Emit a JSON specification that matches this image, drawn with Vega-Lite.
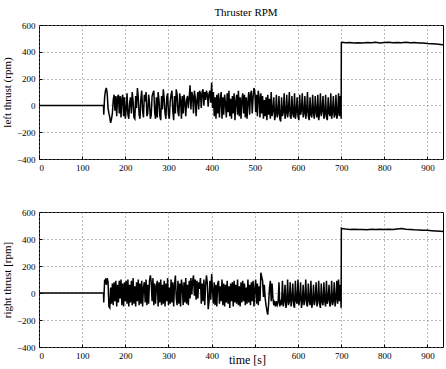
{
  "$schema": "https://vega.github.io/schema/vega-lite/v6.json",
  "padding": {"left": 0, "top": 6, "right": 0, "bottom": 0},
  "spacing": 34,
  "config": {
    "font": "Liberation Serif",
    "view": {"stroke": "black", "strokeWidth": 1},
    "axis": {
      "labelFont": "Liberation Serif", "labelFontSize": 9, "labelColor": "black",
      "titleFont": "Liberation Serif", "titleFontSize": 11, "titleFontWeight": "normal", "titleColor": "black",
      "grid": true, "gridColor": "#777", "gridDash": [1, 3], "gridWidth": 1,
      "domain": false, "ticks": true, "tickSize": -3, "tickColor": "black", "labelPadding": 7
    }
  },
  "datasets": {
    "left": [
      {"t":0,"v":0},{"t":149.5,"v":0},
      {"t":150,"v":-70},{"t":152,"v":60},{"t":154,"v":110},{"t":156,"v":130},{"t":158,"v":90},{"t":160,"v":-20},{"t":162,"v":-60},{"t":164,"v":-90},{"t":166,"v":-130},{"t":168,"v":-100},
      {"t":170,"v":-60},{"t":172,"v":40},{"t":174,"v":80},{"t":176,"v":-40},{"t":178,"v":70},{"t":180,"v":-80},{"t":182,"v":60},{"t":184,"v":80},{"t":186,"v":-60},{"t":188,"v":70},
      {"t":190,"v":-90},{"t":192,"v":50},{"t":194,"v":80},{"t":196,"v":-80},{"t":198,"v":60},{"t":200,"v":-100},{"t":202,"v":-30},{"t":204,"v":90},{"t":206,"v":-70},{"t":208,"v":-100},
      {"t":210,"v":20},{"t":212,"v":60},{"t":214,"v":-60},{"t":216,"v":100},{"t":218,"v":30},{"t":220,"v":-90},{"t":222,"v":-100},{"t":224,"v":70},{"t":226,"v":-20},{"t":228,"v":130},
      {"t":230,"v":60},{"t":232,"v":-70},{"t":234,"v":-100},{"t":236,"v":50},{"t":238,"v":110},{"t":240,"v":-40},{"t":242,"v":-90},{"t":244,"v":80},{"t":246,"v":30},{"t":248,"v":100},
      {"t":250,"v":-80},{"t":252,"v":-60},{"t":254,"v":80},{"t":256,"v":20},{"t":258,"v":-100},{"t":260,"v":-70},{"t":262,"v":70},{"t":264,"v":90},{"t":266,"v":110},{"t":268,"v":-50},
      {"t":270,"v":-100},{"t":272,"v":60},{"t":274,"v":-90},{"t":276,"v":100},{"t":278,"v":40},{"t":280,"v":-80},{"t":282,"v":-110},{"t":284,"v":70},{"t":286,"v":-30},{"t":288,"v":120},
      {"t":290,"v":50},{"t":292,"v":-60},{"t":294,"v":-100},{"t":296,"v":60},{"t":298,"v":90},{"t":300,"v":-70},{"t":302,"v":-100},{"t":304,"v":30},{"t":306,"v":80},{"t":308,"v":110},
      {"t":310,"v":-40},{"t":312,"v":-110},{"t":314,"v":70},{"t":316,"v":-60},{"t":318,"v":120},{"t":320,"v":80},{"t":322,"v":-50},{"t":324,"v":-80},{"t":326,"v":90},{"t":328,"v":40},
      {"t":330,"v":-100},{"t":332,"v":70},{"t":334,"v":-60},{"t":336,"v":80},{"t":338,"v":20},{"t":340,"v":-80},{"t":342,"v":40},{"t":344,"v":70},{"t":346,"v":-20},{"t":348,"v":60},
      {"t":350,"v":150},{"t":352,"v":-30},{"t":354,"v":100},{"t":356,"v":70},{"t":358,"v":-60},{"t":360,"v":110},{"t":362,"v":60},{"t":364,"v":-80},{"t":366,"v":40},{"t":368,"v":100},
      {"t":370,"v":-30},{"t":372,"v":110},{"t":374,"v":90},{"t":376,"v":-20},{"t":378,"v":100},{"t":380,"v":120},{"t":382,"v":0},{"t":384,"v":100},{"t":386,"v":40},{"t":388,"v":110},
      {"t":390,"v":80},{"t":392,"v":-10},{"t":394,"v":90},{"t":396,"v":110},{"t":398,"v":20},{"t":400,"v":170},{"t":402,"v":-20},{"t":404,"v":100},{"t":406,"v":-80},{"t":408,"v":60},
      {"t":410,"v":-100},{"t":412,"v":80},{"t":414,"v":-60},{"t":416,"v":90},{"t":418,"v":-90},{"t":420,"v":40},{"t":422,"v":100},{"t":424,"v":-100},{"t":426,"v":60},{"t":428,"v":-70},
      {"t":430,"v":80},{"t":432,"v":20},{"t":434,"v":-90},{"t":436,"v":90},{"t":438,"v":-50},{"t":440,"v":110},{"t":442,"v":-80},{"t":444,"v":50},{"t":446,"v":-100},{"t":448,"v":70},
      {"t":450,"v":-60},{"t":452,"v":90},{"t":454,"v":-110},{"t":456,"v":30},{"t":458,"v":80},{"t":460,"v":-70},{"t":462,"v":110},{"t":464,"v":-80},{"t":466,"v":60},{"t":468,"v":-100},
      {"t":470,"v":40},{"t":472,"v":90},{"t":474,"v":-60},{"t":476,"v":80},{"t":478,"v":-90},{"t":480,"v":60},{"t":482,"v":-100},{"t":484,"v":30},{"t":486,"v":100},{"t":488,"v":-70},
      {"t":490,"v":80},{"t":492,"v":110},{"t":494,"v":-60},{"t":496,"v":60},{"t":498,"v":130},{"t":500,"v":100},{"t":502,"v":-50},{"t":504,"v":80},{"t":506,"v":-80},{"t":508,"v":110},
      {"t":510,"v":60},{"t":512,"v":-90},{"t":514,"v":90},{"t":516,"v":-60},{"t":518,"v":70},{"t":520,"v":-100},{"t":522,"v":40},{"t":524,"v":-80},{"t":526,"v":60},{"t":528,"v":-110},
      {"t":530,"v":80},{"t":532,"v":-70},{"t":534,"v":50},{"t":536,"v":-100},{"t":538,"v":100},{"t":540,"v":-80},{"t":542,"v":-40},{"t":544,"v":60},{"t":546,"v":-110},{"t":548,"v":-70},
      {"t":550,"v":80},{"t":552,"v":-90},{"t":554,"v":-60},{"t":556,"v":70},{"t":558,"v":-100},{"t":560,"v":-120},{"t":562,"v":60},{"t":564,"v":-80},{"t":566,"v":-50},{"t":568,"v":90},
      {"t":570,"v":-100},{"t":572,"v":-60},{"t":574,"v":80},{"t":576,"v":-90},{"t":578,"v":-40},{"t":580,"v":100},{"t":582,"v":-80},{"t":584,"v":-100},{"t":586,"v":70},{"t":588,"v":-60},
      {"t":590,"v":-90},{"t":592,"v":90},{"t":594,"v":-100},{"t":596,"v":-50},{"t":598,"v":60},{"t":600,"v":-80},{"t":602,"v":-110},{"t":604,"v":80},{"t":606,"v":-70},{"t":608,"v":-40},
      {"t":610,"v":90},{"t":612,"v":-90},{"t":614,"v":-60},{"t":616,"v":70},{"t":618,"v":-100},{"t":620,"v":-50},{"t":622,"v":100},{"t":624,"v":-80},{"t":626,"v":-110},{"t":628,"v":60},
      {"t":630,"v":-70},{"t":632,"v":-90},{"t":634,"v":80},{"t":636,"v":-60},{"t":638,"v":-100},{"t":640,"v":70},{"t":642,"v":-50},{"t":644,"v":-90},{"t":646,"v":80},{"t":648,"v":-110},
      {"t":650,"v":-60},{"t":652,"v":90},{"t":654,"v":-80},{"t":656,"v":-40},{"t":658,"v":70},{"t":660,"v":-100},{"t":662,"v":-70},{"t":664,"v":80},{"t":666,"v":-90},{"t":668,"v":-110},
      {"t":670,"v":60},{"t":672,"v":-60},{"t":674,"v":-80},{"t":676,"v":90},{"t":678,"v":-100},{"t":680,"v":-50},{"t":682,"v":70},{"t":684,"v":-90},{"t":686,"v":-70},{"t":688,"v":80},
      {"t":690,"v":-100},{"t":692,"v":-60},{"t":694,"v":90},{"t":696,"v":-80},{"t":698,"v":70},{"t":700,"v":-100},
      {"t":700.5,"v":470},{"t":702,"v":472},{"t":710,"v":468},{"t":720,"v":470},{"t":730,"v":466},{"t":740,"v":468},{"t":750,"v":465},{"t":760,"v":470},{"t":770,"v":467},{"t":780,"v":472},
      {"t":790,"v":466},{"t":800,"v":469},{"t":810,"v":471},{"t":820,"v":467},{"t":830,"v":470},{"t":840,"v":468},{"t":850,"v":472},{"t":860,"v":467},{"t":870,"v":469},{"t":880,"v":466},
      {"t":890,"v":465},{"t":900,"v":462},{"t":910,"v":460},{"t":920,"v":458},{"t":930,"v":455},{"t":936,"v":453}
    ],
    "right": [
      {"t":0,"v":0},{"t":149.5,"v":0},
      {"t":150,"v":-70},{"t":152,"v":90},{"t":154,"v":100},{"t":156,"v":60},{"t":158,"v":110},{"t":160,"v":80},{"t":162,"v":-100},{"t":164,"v":-110},{"t":166,"v":40},{"t":168,"v":-80},
      {"t":170,"v":70},{"t":172,"v":-90},{"t":174,"v":80},{"t":176,"v":-60},{"t":178,"v":90},{"t":180,"v":-100},{"t":182,"v":60},{"t":184,"v":-70},{"t":186,"v":90},{"t":188,"v":-40},
      {"t":190,"v":100},{"t":192,"v":-90},{"t":194,"v":70},{"t":196,"v":-100},{"t":198,"v":80},{"t":200,"v":-60},{"t":202,"v":90},{"t":204,"v":-80},{"t":206,"v":100},{"t":208,"v":-100},
      {"t":210,"v":60},{"t":212,"v":-70},{"t":214,"v":90},{"t":216,"v":-90},{"t":218,"v":110},{"t":220,"v":-80},{"t":222,"v":50},{"t":224,"v":-100},{"t":226,"v":80},{"t":228,"v":-60},
      {"t":230,"v":100},{"t":232,"v":-90},{"t":234,"v":70},{"t":236,"v":-80},{"t":238,"v":90},{"t":240,"v":-100},{"t":242,"v":40},{"t":244,"v":80},{"t":246,"v":-70},{"t":248,"v":100},
      {"t":250,"v":-90},{"t":252,"v":60},{"t":254,"v":-80},{"t":256,"v":90},{"t":258,"v":130},{"t":260,"v":80},{"t":262,"v":-60},{"t":264,"v":110},{"t":266,"v":-90},{"t":268,"v":70},
      {"t":270,"v":-80},{"t":272,"v":50},{"t":274,"v":90},{"t":276,"v":-100},{"t":278,"v":80},{"t":280,"v":-70},{"t":282,"v":100},{"t":284,"v":-90},{"t":286,"v":60},{"t":288,"v":-80},
      {"t":290,"v":90},{"t":292,"v":-100},{"t":294,"v":70},{"t":296,"v":-60},{"t":298,"v":110},{"t":300,"v":-90},{"t":302,"v":40},{"t":304,"v":-80},{"t":306,"v":100},{"t":308,"v":-70},
      {"t":310,"v":80},{"t":312,"v":-100},{"t":314,"v":60},{"t":316,"v":130},{"t":318,"v":-40},{"t":320,"v":-90},{"t":322,"v":90},{"t":324,"v":-80},{"t":326,"v":70},{"t":328,"v":-100},
      {"t":330,"v":100},{"t":332,"v":50},{"t":334,"v":-90},{"t":336,"v":80},{"t":338,"v":-70},{"t":340,"v":110},{"t":342,"v":-80},{"t":344,"v":60},{"t":346,"v":-90},{"t":348,"v":90},
      {"t":350,"v":-40},{"t":352,"v":110},{"t":354,"v":-10},{"t":356,"v":90},{"t":358,"v":130},{"t":360,"v":-20},{"t":362,"v":100},{"t":364,"v":-50},{"t":366,"v":90},{"t":368,"v":-40},
      {"t":370,"v":80},{"t":372,"v":30},{"t":374,"v":110},{"t":376,"v":-80},{"t":378,"v":70},{"t":380,"v":-60},{"t":382,"v":100},{"t":384,"v":-90},{"t":386,"v":60},{"t":388,"v":130},
      {"t":390,"v":70},{"t":392,"v":-120},{"t":394,"v":-60},{"t":396,"v":90},{"t":398,"v":-50},{"t":400,"v":140},{"t":402,"v":20},{"t":404,"v":-80},{"t":406,"v":80},{"t":408,"v":-90},
      {"t":410,"v":60},{"t":412,"v":-100},{"t":414,"v":70},{"t":416,"v":90},{"t":418,"v":-80},{"t":420,"v":50},{"t":422,"v":-60},{"t":424,"v":100},{"t":426,"v":-90},{"t":428,"v":70},
      {"t":430,"v":-100},{"t":432,"v":60},{"t":434,"v":-70},{"t":436,"v":90},{"t":438,"v":-80},{"t":440,"v":50},{"t":442,"v":-110},{"t":444,"v":70},{"t":446,"v":-60},{"t":448,"v":80},
      {"t":450,"v":-100},{"t":452,"v":90},{"t":454,"v":-70},{"t":456,"v":60},{"t":458,"v":-80},{"t":460,"v":100},{"t":462,"v":-90},{"t":464,"v":50},{"t":466,"v":-100},{"t":468,"v":80},
      {"t":470,"v":-70},{"t":472,"v":90},{"t":474,"v":-60},{"t":476,"v":70},{"t":478,"v":-90},{"t":480,"v":40},{"t":482,"v":-80},{"t":484,"v":100},{"t":486,"v":-70},{"t":488,"v":60},
      {"t":490,"v":-90},{"t":492,"v":80},{"t":494,"v":-60},{"t":496,"v":90},{"t":498,"v":-100},{"t":500,"v":30},{"t":502,"v":100},{"t":504,"v":-80},{"t":506,"v":70},{"t":508,"v":-90},
      {"t":510,"v":50},{"t":512,"v":-60},{"t":514,"v":150},{"t":516,"v":120},{"t":518,"v":90},{"t":520,"v":-30},{"t":522,"v":60},{"t":524,"v":-40},{"t":526,"v":-90},{"t":528,"v":-130},
      {"t":530,"v":-160},{"t":532,"v":-80},{"t":534,"v":40},{"t":536,"v":90},{"t":538,"v":-60},{"t":540,"v":70},{"t":542,"v":-40},{"t":544,"v":-90},{"t":546,"v":-70},{"t":548,"v":-100},
      {"t":550,"v":-60},{"t":552,"v":-90},{"t":554,"v":-70},{"t":556,"v":80},{"t":558,"v":-100},{"t":560,"v":-50},{"t":562,"v":-90},{"t":564,"v":90},{"t":566,"v":-100},{"t":568,"v":-60},
      {"t":570,"v":60},{"t":572,"v":-110},{"t":574,"v":-70},{"t":576,"v":100},{"t":578,"v":-90},{"t":580,"v":-60},{"t":582,"v":80},{"t":584,"v":-100},{"t":586,"v":-50},{"t":588,"v":70},
      {"t":590,"v":-90},{"t":592,"v":-110},{"t":594,"v":90},{"t":596,"v":-60},{"t":598,"v":-80},{"t":600,"v":100},{"t":602,"v":-90},{"t":604,"v":-50},{"t":606,"v":80},{"t":608,"v":-110},
      {"t":610,"v":-70},{"t":612,"v":60},{"t":614,"v":-90},{"t":616,"v":-50},{"t":618,"v":100},{"t":620,"v":-80},{"t":622,"v":-100},{"t":624,"v":70},{"t":626,"v":-60},{"t":628,"v":-90},
      {"t":630,"v":90},{"t":632,"v":-110},{"t":634,"v":-70},{"t":636,"v":60},{"t":638,"v":-90},{"t":640,"v":-50},{"t":642,"v":80},{"t":644,"v":-100},{"t":646,"v":-60},{"t":648,"v":90},
      {"t":650,"v":-80},{"t":652,"v":-110},{"t":654,"v":70},{"t":656,"v":-70},{"t":658,"v":-90},{"t":660,"v":80},{"t":662,"v":-60},{"t":664,"v":-100},{"t":666,"v":90},{"t":668,"v":-80},
      {"t":670,"v":-50},{"t":672,"v":60},{"t":674,"v":-100},{"t":676,"v":-70},{"t":678,"v":90},{"t":680,"v":-90},{"t":682,"v":-60},{"t":684,"v":80},{"t":686,"v":-100},{"t":688,"v":-50},
      {"t":690,"v":90},{"t":692,"v":-80},{"t":694,"v":100},{"t":696,"v":-60},{"t":698,"v":60},{"t":700,"v":-110},
      {"t":700.5,"v":480},{"t":702,"v":478},{"t":710,"v":474},{"t":720,"v":470},{"t":730,"v":472},{"t":740,"v":470},{"t":750,"v":471},{"t":760,"v":469},{"t":770,"v":472},{"t":780,"v":470},
      {"t":790,"v":472},{"t":800,"v":471},{"t":810,"v":473},{"t":820,"v":470},{"t":830,"v":474},{"t":840,"v":478},{"t":850,"v":472},{"t":860,"v":470},{"t":870,"v":468},{"t":880,"v":467},
      {"t":890,"v":465},{"t":900,"v":464},{"t":910,"v":462},{"t":920,"v":460},{"t":930,"v":457},{"t":936,"v":455}
    ]
  },
  "vconcat": [
    {
      "title": {"text": "Thruster RPM", "font": "Liberation Serif", "fontSize": 11, "fontWeight": "normal", "color": "black", "offset": 3, "dx": 5},
      "width": 404, "height": 134,
      "data": {"name": "left"},
      "mark": {"type": "line", "color": "black", "strokeWidth": 1.5, "clip": true},
      "encoding": {
        "x": {"field": "t", "type": "quantitative", "scale": {"domain": [0, 936], "nice": false, "zero": false}, "axis": {"values": [0,100,200,300,400,500,600,700,800,900], "title": null}},
        "y": {"field": "v", "type": "quantitative", "scale": {"domain": [-400, 600], "nice": false}, "axis": {"values": [-400,-200,0,200,400,600], "title": "left thrust (rpm)", "titlePadding": 4}}
      }
    },
    {
      "width": 404, "height": 135,
      "data": {"name": "right"},
      "mark": {"type": "line", "color": "black", "strokeWidth": 1.5, "clip": true},
      "encoding": {
        "x": {"field": "t", "type": "quantitative", "scale": {"domain": [0, 936], "nice": false, "zero": false}, "axis": {"values": [0,100,200,300,400,500,600,700,800,900], "labelExpr": "datum.value == 500 ? '' : datum.label", "title": "time [s]", "titleFontSize": 12, "titlePadding": -6, "titleX": 208}},
        "y": {"field": "v", "type": "quantitative", "scale": {"domain": [-400, 600], "nice": false}, "axis": {"values": [-400,-200,0,200,400,600], "title": "right thrust [rpm]", "titlePadding": 4}}
      }
    }
  ]
}
